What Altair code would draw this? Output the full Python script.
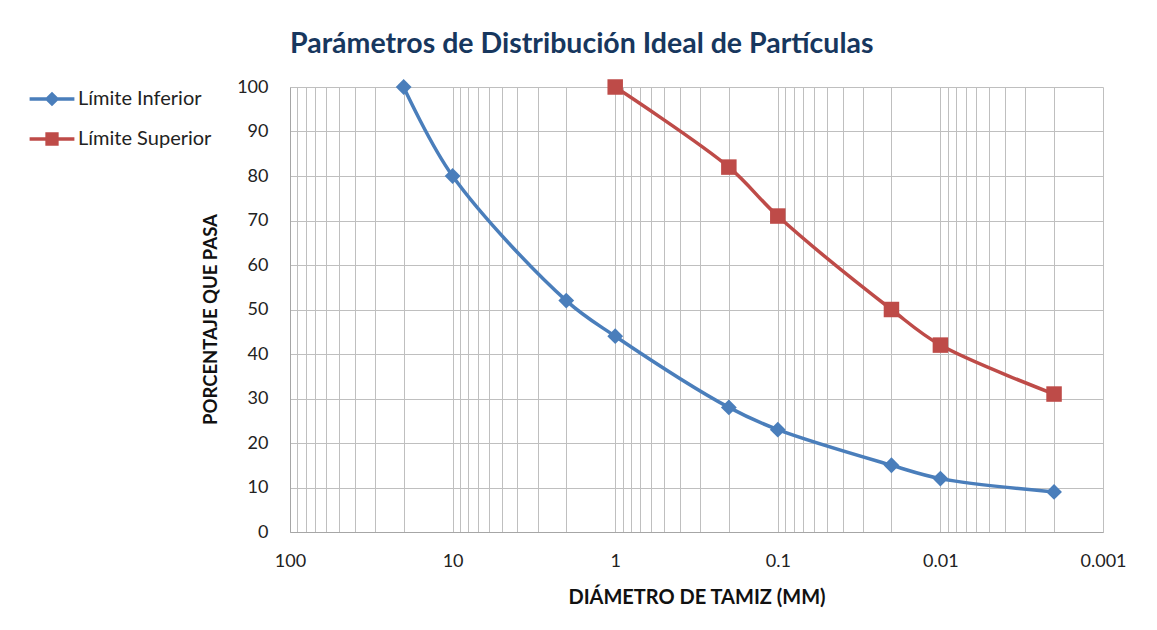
import altair as alt
import pandas as pd

series_names = ["Límite Inferior", "Límite Superior"]
diam_inf = [20, 10, 2, 1, 0.2, 0.1, 0.02, 0.01, 0.002]
pct_inf = [100, 80, 52, 44, 28, 23, 15, 12, 9]
diam_sup = [1, 0.2, 0.1, 0.02, 0.01, 0.002]
pct_sup = [100, 82, 71, 50, 42, 31]

major_ticks = [100, 10, 1, 0.1, 0.01, 0.001]
grid_ticks = []
for k in range(-3, 2):
    for m in range(1, 10):
        grid_ticks.append(round(m * 10 ** k, 6))
grid_ticks.append(100)

colors = ["#4A7EBB", "#BE4B48"]
legend_paths = [
    "M-3.2,-0.25H3.2V0.25H-3.2Z M0,-1.05L1.05,0L0,1.05L-1.05,0Z",
    "M-3.2,-0.25H3.2V0.25H-3.2Z M-0.95,-0.95H0.95V0.95H-0.95Z",
]

df = pd.DataFrame(
    {
        "series": [series_names[0]] * len(diam_inf) + [series_names[1]] * len(diam_sup),
        "diam": diam_inf + diam_sup,
        "pct": pct_inf + pct_sup,
    }
)

font = "Lato"

x_enc = alt.X(
    "diam:Q",
    scale=alt.Scale(type="log", domain=[0.001, 100], reverse=True, nice=False),
    axis=alt.Axis(
        values=grid_ticks,
        labelExpr="indexof([100, 10, 1, 0.1, 0.01, 0.001], datum.value) >= 0 ? toString(datum.value) : ''",
        labelOverlap=False,
        labelFlush=False,
        ticks=False,
        grid=True,
        labelPadding=20,
        title="DIÁMETRO DE TAMIZ (MM)",
        titlePadding=17,
    ),
)
y_enc = alt.Y(
    "pct:Q",
    scale=alt.Scale(domain=[0, 100], nice=False),
    axis=alt.Axis(
        values=list(range(0, 101, 10)),
        ticks=False,
        grid=True,
        labelPadding=22,
        title="PORCENTAJE QUE PASA",
        titlePadding=16,
        titleFontSize=18.5,
        titleY=232,
    ),
)
color_enc = alt.Color(
    "series:N",
    scale=alt.Scale(domain=series_names, range=colors),
    legend=alt.Legend(title=None),
)

base = alt.Chart(df)

lines = base.mark_line(interpolate="catmull-rom", strokeWidth=3.5).encode(
    x=x_enc, y=y_enc, color=color_enc
)
pts_inf = (
    base.transform_filter(alt.datum.series == series_names[0])
    .mark_point(shape="diamond", filled=True, size=250, opacity=1)
    .encode(x=x_enc, y=y_enc, color=color_enc)
)
pts_sup = (
    base.transform_filter(alt.datum.series == series_names[1])
    .mark_point(shape="square", filled=True, size=240, opacity=1)
    .encode(x=x_enc, y=y_enc, color=color_enc)
)
legend_layer = base.mark_point(filled=True, opacity=0).encode(
    x=x_enc,
    y=y_enc,
    color=color_enc,
    shape=alt.Shape(
        "series:N",
        scale=alt.Scale(domain=series_names, range=legend_paths),
        legend=alt.Legend(title=None),
    ),
)

chart = (
    alt.layer(lines, pts_inf, pts_sup, legend_layer)
    .properties(
        width=813,
        height=445,
        title=alt.TitleParams(
            "Parámetros de Distribución Ideal de Partículas",
            anchor="start",
            frame="group",
            offset=20,
            fontSize=28.5,
            font=font,
            fontWeight="bold",
            color="#17375E",
        ),
        autosize=alt.AutoSizeParams(type="none"),
        padding={"left": 282, "top": 79, "right": 40, "bottom": 80},
    )
    .configure_view(stroke=None)
    .configure_axis(
        labelFont=font,
        labelFontSize=18,
        labelColor="#222222",
        titleFont=font,
        titleFontSize=20,
        titleFontWeight="bold",
        titleColor="#111111",
        gridColor="#BFBFBF",
        gridWidth=1,
        domainColor="#A6A6A6",
        domainWidth=1,
    )
    .configure_legend(
        orient="none",
        legendX=-248,
        legendY=2,
        labelFont=font,
        labelFontSize=20,
        labelColor="#222222",
        symbolSize=196,
        symbolOpacity=1,
        symbolStrokeWidth=0,
        labelOffset=16,
        rowPadding=20,
        padding=0,
    )
)

chart.save("out.html", embed_options={"renderer": "svg", "actions": False})
